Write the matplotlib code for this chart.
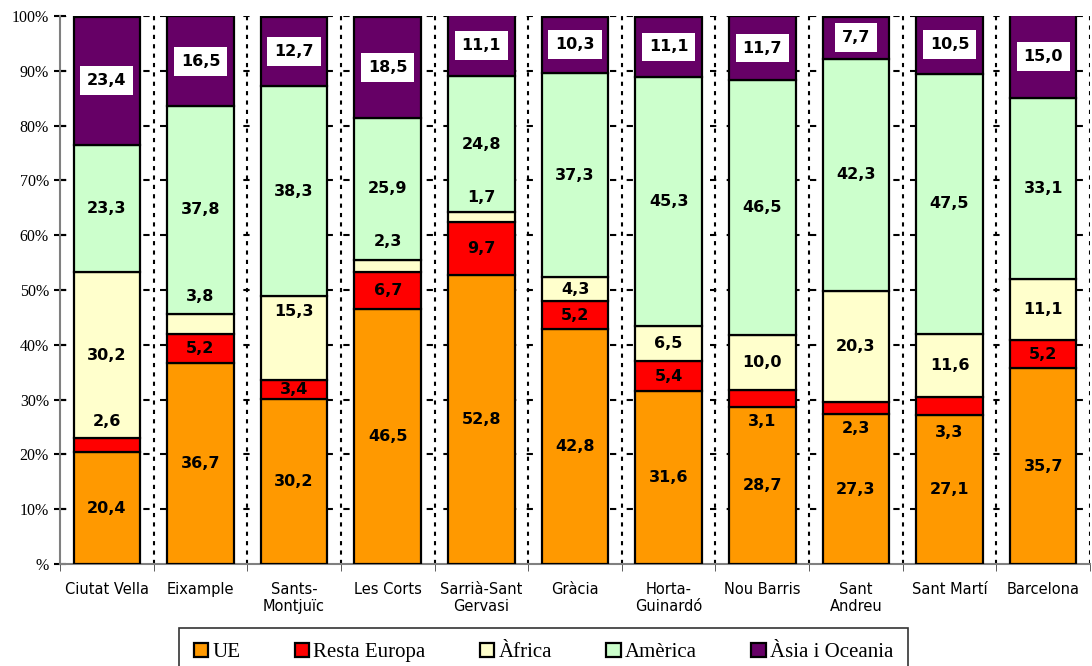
import matplotlib
matplotlib.use('Agg')
import matplotlib.pyplot as plt
import numpy as np

# districtes i percentatges per continent
districtes = ['Ciutat Vella', 'Eixample', 'Sants-\nMontjuïc', 'Les Corts', 'Sarrià-Sant\nGervasi',
              'Gràcia', 'Horta-\nGuinardó', 'Nou Barris', 'Sant\nAndreu', 'Sant Martí', 'Barcelona']
ue = [20.4, 36.7, 30.2, 46.5, 52.8, 42.8, 31.6, 28.7, 27.3, 27.1, 35.7]
resta_europa = [2.6, 5.2, 3.4, 6.7, 9.7, 5.2, 5.4, 3.1, 2.3, 3.3, 5.2]
africa = [30.2, 3.8, 15.3, 2.3, 1.7, 4.3, 6.5, 10.0, 20.3, 11.6, 11.1]
america = [23.3, 37.8, 38.3, 25.9, 24.8, 37.3, 45.3, 46.5, 42.3, 47.5, 33.1]
asia = [23.4, 16.5, 12.7, 18.5, 11.1, 10.3, 11.1, 11.7, 7.7, 10.5, 15.0]

series = [ue, resta_europa, africa, america, asia]
noms = ['UE', 'Resta Europa', 'Àfrica', 'Amèrica', 'Àsia i Oceania']
colors = ['#FF9900', '#FF0000', '#FFFFCC', '#CCFFCC', '#660066']

# desplaçament manual de les etiquetes petites (punts percentuals)
offsets = [
    [0] * 11,
    [4.3, 0, 0, 0, 0, 0, 0, -4.3, -3.8, -4.7, 0],
    [0, 5.0, 4.8, 4.5, 3.6, 0, 0, 0, 0, 0, 0],
    [0] * 11,
    [0] * 11,
]

fig = plt.figure(figsize=(10.92, 6.66), dpi=100)
ax = fig.add_axes([60 / 1092, 102 / 666, 1030 / 1092, 548 / 666])

x = np.arange(len(districtes))
bottom = np.zeros(len(districtes))
for k, (vals, col) in enumerate(zip(series, colors)):
    vals = np.array(vals)
    ax.bar(x, vals, 0.71, bottom=bottom, color=col, edgecolor='black',
           linewidth=1.6, zorder=3, label=noms[k])
    for i, v in enumerate(vals):
        yc = bottom[i] + v / 2 + offsets[k][i]
        txt = ('%.1f' % v).replace('.', ',')
        if k == 4:
            ax.text(x[i], yc, txt, ha='center', va='center', fontsize=11.5,
                    fontweight='bold', family='DejaVu Sans', zorder=5,
                    bbox=dict(facecolor='white', edgecolor='none', pad=5))
        else:
            ax.text(x[i], yc, txt, ha='center', va='center', fontsize=11.5,
                    fontweight='bold', family='DejaVu Sans', zorder=5)
    bottom = bottom + vals

# graella
for yv in range(10, 101, 10):
    ax.axhline(yv, color='black', linewidth=1.5, linestyle=(0, (3, 5)), zorder=1)
for xv in np.arange(0.5, 11, 1):
    ax.axvline(xv, color='black', linewidth=1.5, linestyle=(0, (2, 2.5)), zorder=1)

ax.set_xlim(-0.5, 10.5)
ax.set_ylim(0, 100)
ax.set_yticks(range(0, 101, 10))
ax.set_yticklabels(['%'] + ['%d%%' % v for v in range(10, 101, 10)],
                   family='Liberation Serif', fontsize=11.5)
ax.tick_params(axis='y', direction='inout', length=8, width=1.5, pad=4)
ax.set_xticks(x)
ax.set_xticklabels(districtes, family='DejaVu Sans', fontsize=10.5)
ax.set_xticks(np.arange(-0.5, 11, 1), minor=True)
ax.tick_params(axis='x', which='major', length=0, pad=13)
ax.tick_params(axis='x', which='minor', direction='out', length=5, color='#404040')

for s in ['top', 'right']:
    ax.spines[s].set_visible(False)
for s in ['left', 'bottom']:
    ax.spines[s].set_color('#808080')
    ax.spines[s].set_linewidth(1.5)

leg = fig.legend(loc='upper center', bbox_to_anchor=(0.4977, 38 / 666), ncol=5,
                 prop={'family': 'Liberation Serif', 'size': 15}, frameon=True,
                 fancybox=False, edgecolor='black', handlelength=0.7, handleheight=0.7,
                 handletextpad=0.2, columnspacing=2.6, borderpad=0.7, borderaxespad=0)
leg.get_frame().set_linewidth(1.2)

fig.savefig('out.png', dpi=100)
